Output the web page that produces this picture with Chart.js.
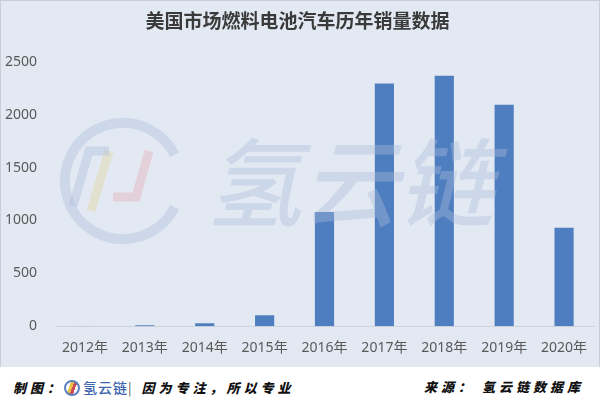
<!DOCTYPE html>
<html lang="zh">
<head>
    <meta charset="UTF-8">
    <title>美国市场燃料电池汽车历年销量数据</title>
    <script src="https://cdn.jsdelivr.net/npm/chart.js"></script>
    <style>
        html, body { margin: 0; padding: 0; background: #fff; }
        .wrap { width: 600px; height: 405px; position: relative; overflow: hidden; }
        .chart-box { width: 598px; height: 366px; background: #e3e9f3; border: 1px solid #c9ced6; border-bottom: none; }
        .footer { height: 38px; position: relative; font-family: 'Noto Sans CJK SC', sans-serif; font-weight: 900; font-style: italic; font-size: 13px; color: #111; }
        .footer .left { position: absolute; left: 13px; top: 10px; letter-spacing: 4px; white-space: nowrap; }
        .footer .right { position: absolute; right: 16px; top: 10px; letter-spacing: 4px; white-space: nowrap; }
        .logo { display: inline-block; width: 12px; height: 12px; border: 2px solid #5b7fc0; border-radius: 50%; vertical-align: -3px; margin-right: 3px;
                background: linear-gradient(110deg, #fff 30%, #e8c34a 30%, #e8c34a 50%, #d04a5a 50%, #d04a5a 70%, #fff 70%); }
        .brand { color: #3d64ad; font-style: normal; font-weight: 500; font-size: 14px; letter-spacing: 1px; }
        .bar-sep { font-style: normal; font-weight: 400; color: #555; margin-right: 6px; }
    </style>
</head>
<body>
<div class="wrap">
    <div class="chart-box">
        <canvas id="myChart" width="598" height="366"></canvas>
    </div>
    <div class="footer">
        <span class="left">制图：<span class="logo"></span><span class="brand">氢云链</span><span class="bar-sep">|</span>因为专注，所以专业</span>
        <span class="right">来源： 氢云链数据库</span>
    </div>
</div>

<script>
    // data
    const years = ["2012年", "2013年", "2014年", "2015年", "2016年", "2017年", "2018年", "2019年", "2020年"];
    const sales = [2, 10, 28, 104, 1080, 2295, 2368, 2093, 930];
    const yMax = 2500;
    const yStep = 500;

    // faint logo watermark over the chart
    const watermark = {
        id: 'watermark',
        afterDatasetsDraw(chart) {
            const c = chart.ctx;
            c.save();
            c.globalAlpha = 0.4;
            c.strokeStyle = '#a9bbda';
            c.lineWidth = 10;
            c.beginPath();
            c.arc(122, 180, 58, 0.15 * Math.PI, 1.85 * Math.PI);
            c.stroke();
            c.lineWidth = 9;
            c.strokeStyle = '#e2d49c';
            c.beginPath(); c.moveTo(90, 210); c.lineTo(108, 150); c.stroke();
            c.strokeStyle = '#e5a9b2';
            c.beginPath(); c.moveTo(112, 196); c.lineTo(135, 196); c.lineTo(148, 150); c.stroke();
            c.strokeStyle = '#a9bbda';
            c.beginPath(); c.moveTo(72, 205); c.lineTo(88, 150); c.lineTo(108, 150); c.stroke();
            c.font = 'italic 500 96px "Noto Sans CJK SC"';
            c.fillStyle = '#a9bbda';
            c.textBaseline = 'middle';
            c.fillText('氢云链', 205, 182);
            c.restore();
        }
    };

    const ctx = document.getElementById('myChart').getContext('2d');
    new Chart(ctx, {
        type: 'bar',
        data: {
            labels: years,
            datasets: [{
                data: sales,
                backgroundColor: '#4e7ec0',
                barPercentage: 0.32,
                categoryPercentage: 1
            }]
        },
        options: {
            responsive: false,
            animation: false,
            layout: { padding: { top: 0, right: 5, bottom: 6, left: 0 } },
            plugins: {
                legend: { display: false },
                tooltip: { enabled: false },
                title: {
                    display: true,
                    text: '美国市场燃料电池汽车历年销量数据',
                    color: '#3a3a3a',
                    font: { family: "'Noto Sans CJK SC'", size: 19, weight: 'bold' },
                    padding: { top: 8, bottom: 30 }
                }
            },
            scales: {
                x: {
                    grid: { display: false },
                    border: { display: true, color: '#cfd4db' },
                    ticks: {
                        color: '#595959',
                        padding: 5,
                        font: { family: "'Noto Sans', 'Noto Sans CJK SC'", size: 14 }
                    }
                },
                y: {
                    min: 0,
                    max: yMax,
                    grid: { display: false },
                    border: { display: false },
                    ticks: {
                        stepSize: yStep,
                        color: '#595959',
                        padding: 10,
                        font: { family: "'Noto Sans'", size: 14 },
                        callback: (v) => String(v)
                    },
                    afterFit(scale) { scale.width = 54; }
                }
            }
        },
        plugins: [watermark]
    });
</script>
</body>
</html>
